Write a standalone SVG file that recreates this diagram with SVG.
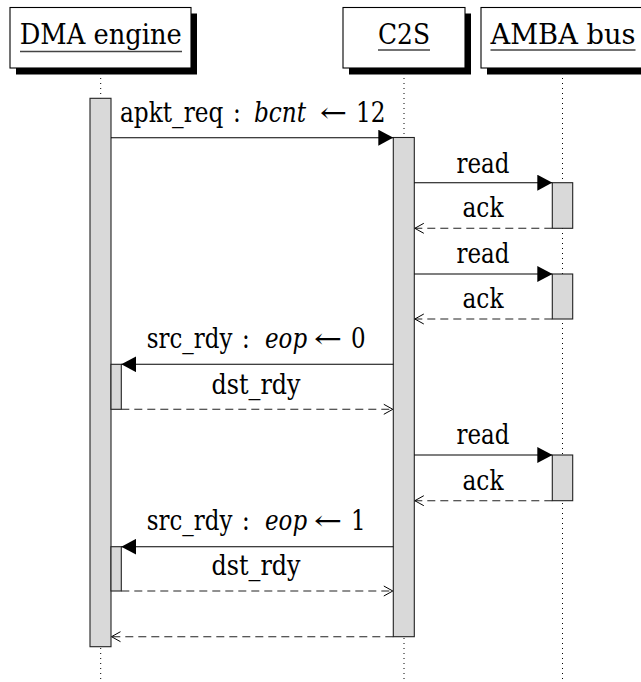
<svg xmlns="http://www.w3.org/2000/svg" width="641" height="682" viewBox="0 0 641 682">
<style>
.hdr{font-size:27.5px;text-anchor:middle;}
.lbl{font-size:27px;text-anchor:middle;}
.seg{font-size:27px;text-anchor:start;}
.mid{text-anchor:middle;}
.it{font-style:italic;}
.box{fill:#fff;stroke:#000;stroke-width:1.1;}
.shadow{fill:#000;}
.ul{stroke:#444;stroke-width:1.3;}
.life{stroke:#000;stroke-width:1;stroke-dasharray:1 4;fill:none;}
.bar{fill:#d9d9d9;stroke:#222;stroke-width:1.1;}
.msg{stroke:#000;stroke-width:1.1;fill:none;marker-end:url(#tri);}
.ret{stroke:#222;stroke-width:1.1;fill:none;stroke-dasharray:8 5;marker-end:url(#open);}
</style>
<defs>
<marker id="tri" viewBox="0 0 15 16" refX="15" refY="8" markerWidth="15" markerHeight="16" markerUnits="userSpaceOnUse" orient="auto">
<path d="M0,0 L15,8 L0,16 z" fill="#000"/>
</marker>
<marker id="open" viewBox="-1 -1 11 12" refX="9" refY="5" markerWidth="11" markerHeight="12" markerUnits="userSpaceOnUse" orient="auto">
<path d="M0,0 L9,5 L0,10" fill="none" stroke="#000" stroke-width="1"/>
</marker>
</defs>
<rect width="641" height="682" fill="#fff"/>

<g id="lifelines">
<line class="life" x1="100.7" y1="68" x2="100.7" y2="682"/>
<line class="life" x1="404" y1="68" x2="404" y2="682"/>
<line class="life" x1="562.5" y1="68" x2="562.5" y2="682"/>
</g>

<g font-family="'DejaVu Serif', 'Liberation Serif', serif" fill="#000">
<g id="dma">
<rect class="shadow" x="16" y="13.5" width="181" height="61"/>
<rect class="box" x="10" y="7.5" width="181" height="60.5"/>
<text class="hdr" x="100.7" y="44" textLength="162" lengthAdjust="spacingAndGlyphs">DMA engine</text>
<line class="ul" x1="20" y1="51.5" x2="182" y2="51.5"/>
</g>

<g id="c2s">
<rect class="shadow" x="349" y="13.5" width="122" height="61"/>
<rect class="box" x="343" y="7.5" width="122" height="60.5"/>
<text class="hdr" x="404" y="44" textLength="52" lengthAdjust="spacingAndGlyphs">C2S</text>
<line class="ul" x1="378" y1="50" x2="430" y2="50"/>
</g>

<g id="amba">
<rect class="shadow" x="487" y="13.5" width="170" height="61"/>
<rect class="box" x="481" y="7.5" width="170" height="60.5"/>
<text class="hdr" x="563" y="44" textLength="145" lengthAdjust="spacingAndGlyphs">AMBA bus</text>
<line class="ul" x1="490.5" y1="50" x2="635.5" y2="50"/>
</g>

<g id="activations">
<rect class="bar" x="90" y="98.3" width="21" height="548.4"/>
<rect class="bar" x="393.3" y="137.5" width="21" height="499.2"/>
<rect class="bar" x="552.3" y="182.7" width="20.4" height="45.6"/>
<rect class="bar" x="552.3" y="274" width="20.4" height="45"/>
<rect class="bar" x="552.3" y="455" width="20.4" height="45.7"/>
<rect class="bar" x="111" y="364.3" width="10.3" height="45"/>
<rect class="bar" x="111" y="546.7" width="10.3" height="44.3"/>
</g>

<g id="connectors">
<line class="msg" x1="111" y1="137.7" x2="393.3" y2="137.7"/>
<line class="msg" x1="414.3" y1="182.7" x2="552.3" y2="182.7"/>
<line class="ret" x1="552.3" y1="228.3" x2="414.8" y2="228.3"/>
<line class="msg" x1="414.3" y1="274" x2="552.3" y2="274"/>
<line class="ret" x1="552.3" y1="319" x2="414.8" y2="319"/>
<line class="msg" x1="393.3" y1="364.3" x2="121.3" y2="364.3"/>
<line class="ret" x1="121.3" y1="409.3" x2="392.8" y2="409.3"/>
<line class="msg" x1="414.3" y1="455" x2="552.3" y2="455"/>
<line class="ret" x1="552.3" y1="500.7" x2="414.8" y2="500.7"/>
<line class="msg" x1="393.3" y1="546.7" x2="121.3" y2="546.7"/>
<line class="ret" x1="121.3" y1="591" x2="392.8" y2="591"/>
<line class="ret" x1="393.3" y1="636.7" x2="111.5" y2="636.7"/>
</g>

<g id="labels">
<g id="lbl-apkt" transform="translate(120,121.5) scale(0.86,1)">
<text class="seg" x="0" y="0">apkt_req</text>
<text class="seg" x="131.4" y="0">:</text>
<text class="seg it" x="155.8" y="0">bcnt</text>
<text class="seg mid" x="248.3" y="0" textLength="31.4" lengthAdjust="spacingAndGlyphs">←</text>
<text class="seg" x="274.4" y="0">12</text>
</g>
<text class="lbl" x="483" y="172.7" textLength="53" lengthAdjust="spacingAndGlyphs">read</text>
<text class="lbl" x="483" y="217.3" textLength="41" lengthAdjust="spacingAndGlyphs">ack</text>
<text class="lbl" x="483" y="263.3" textLength="53" lengthAdjust="spacingAndGlyphs">read</text>
<text class="lbl" x="483" y="308.3" textLength="41" lengthAdjust="spacingAndGlyphs">ack</text>
<g id="lbl-src0" transform="translate(146.7,348.3) scale(0.85,1)">
<text class="seg" x="0" y="0">src_rdy</text>
<text class="seg" x="112.1" y="0">:</text>
<text class="seg it" x="139.2" y="0">eop</text>
<text class="seg mid" x="213.3" y="0" textLength="33" lengthAdjust="spacingAndGlyphs">←</text>
<text class="seg" x="240.4" y="0">0</text>
</g>
<text class="lbl" x="256" y="394" textLength="89" lengthAdjust="spacingAndGlyphs">dst_rdy</text>
<text class="lbl" x="483" y="444" textLength="53" lengthAdjust="spacingAndGlyphs">read</text>
<text class="lbl" x="483" y="490" textLength="41" lengthAdjust="spacingAndGlyphs">ack</text>
<g id="lbl-src1" transform="translate(146.7,530) scale(0.85,1)">
<text class="seg" x="0" y="0">src_rdy</text>
<text class="seg" x="112.1" y="0">:</text>
<text class="seg it" x="139.2" y="0">eop</text>
<text class="seg mid" x="213.3" y="0" textLength="33" lengthAdjust="spacingAndGlyphs">←</text>
<text class="seg" x="240.4" y="0">1</text>
</g>
<text class="lbl" x="256" y="575" textLength="89" lengthAdjust="spacingAndGlyphs">dst_rdy</text>
</g>
</g>
</svg>
